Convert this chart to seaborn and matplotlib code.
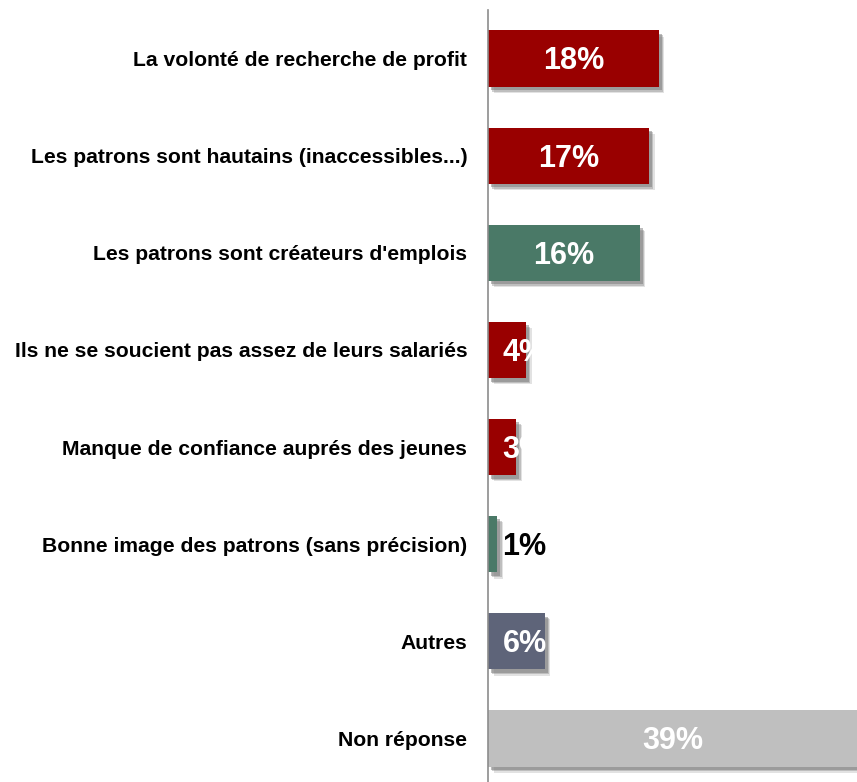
import matplotlib
matplotlib.use("Agg")
import matplotlib.pyplot as plt
import matplotlib.patheffects as pe
import seaborn as sns
import pandas as pd

categories = [
    "La volonté de recherche de profit",
    "Les patrons sont hautains (inaccessibles...)",
    "Les patrons sont créateurs d'emplois",
    "Ils ne se soucient pas assez de leurs salariés",
    "Manque de confiance auprés des jeunes",
    "Bonne image des patrons (sans précision)",
    "Autres",
    "Non réponse",
]
values = [18, 17, 16, 4, 3, 1, 6, 39]
colors = ["#990000", "#990000", "#4a7967", "#990000", "#990000",
          "#4a7967", "#5e6479", "#bfbfbf"]
text_colors = ["white", "white", "white", "white", "white",
               "black", "white", "white"]

df = pd.DataFrame({"cat": categories, "val": values})

sns.set_theme(style="white")
plt.rcParams["font.family"] = ["Liberation Sans", "DejaVu Sans"]

fig = plt.figure(figsize=(8.57, 7.82), dpi=100)
ax = fig.add_axes([488 / 857, -0.0064, 370 / 857, 0.9936])

sns.barplot(data=df, x="val", y="cat", hue="cat", palette=colors,
            legend=False, width=0.58, ax=ax, saturation=1, linewidth=0)

shadow = [
    pe.SimplePatchShadow(offset=(4.0, -4.5), shadow_rgbFace="#a0a0a0", alpha=0.3),
    pe.SimplePatchShadow(offset=(3.0, -3.5), shadow_rgbFace="#8a8a8a", alpha=0.4),
    pe.SimplePatchShadow(offset=(2.0, -2.5), shadow_rgbFace="#7a7a7a", alpha=0.5),
    pe.Normal(),
]
for p in ax.patches:
    p.set_linewidth(0)
    p.set_path_effects(shadow)

ax.set_xlim(0, 39)
ax.set_xlabel("")
ax.set_ylabel("")
ax.set_xticks([])
for s in ["top", "right", "bottom"]:
    ax.spines[s].set_visible(False)
ax.spines["left"].set_color("#8c8c8c")
ax.spines["left"].set_linewidth(1.2)
ax.tick_params(axis="y", length=0, pad=15)
for lab in ax.get_yticklabels():
    lab.set_fontsize(15.2)
    lab.set_fontweight("bold")
    lab.set_color("black")

for i, (v, tc) in enumerate(zip(values, text_colors)):
    x = max(v / 2, 3.85)
    ax.text(x, i + 0.03, f"{v}%", ha="center", va="center", color=tc,
            fontsize=22, fontweight="bold", clip_on=False)

fig.savefig("out.png", dpi=100)
